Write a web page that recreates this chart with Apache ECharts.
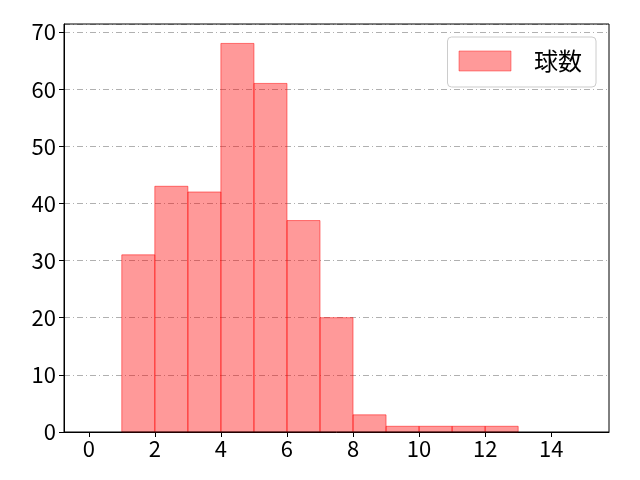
<!DOCTYPE html>
<html>
<head>
<meta charset="utf-8">
<script src="https://cdn.jsdelivr.net/npm/echarts@6/dist/echarts.min.js"></script>
<style>
  html, body { margin: 0; padding: 0; background: #fff; }
  #main { width: 640px; height: 480px; }
</style>
</head>
<body>
<div id="main"></div>
<script>
// histogram bins (left edge, right edge) and counts
var binStart = [1, 2, 3, 4, 5, 6, 7, 8, 9, 10, 11, 12];
var binEnd = [2, 3, 4, 5, 6, 7, 8, 9, 10, 11, 12, 13];
var counts = [31, 43, 42, 68, 61, 37, 20, 3, 1, 1, 1, 1];
var xTicks = [0, 2, 4, 6, 8, 10, 12, 14];
var seriesName = '球数';

var data = binStart.map(function (s, i) { return [s, binEnd[i], counts[i]]; });

var chart = echarts.init(document.getElementById('main'));
var font = 'Noto Sans CJK JP, sans-serif';

chart.setOption({
    animation: false,
    grid: { left: 64, right: 31, top: 24, bottom: 48 },
    legend: {
        right: 44, top: 37,
        padding: [12, 14, 14, 11],
        borderColor: '#cccccc', borderWidth: 1, borderRadius: 4,
        icon: 'rect', itemWidth: 52, itemHeight: 20, itemGap: 10,
        textStyle: { fontSize: 24, lineHeight: 20, fontFamily: font, color: '#000', padding: [0, 0, 0, 18] },
        data: [{ name: seriesName, itemStyle: { color: 'rgba(255,0,0,0.4)', borderColor: 'rgba(255,0,0,0.4)', borderWidth: 1 } }]
    },
    xAxis: {
        type: 'value', min: -0.75, max: 15.75,
        axisLine: { onZero: false, lineStyle: { color: '#000', width: 1 } },
        axisTick: { show: true, length: 5, lineStyle: { color: '#000' },
            customValues: xTicks },
        axisLabel: { fontSize: 22, color: '#000', fontFamily: font, margin: 6,
            customValues: xTicks },
        splitLine: { show: false }
    },
    yAxis: {
        type: 'value', min: 0, max: 71.4, interval: 10,
        axisLine: { show: true, onZero: false, lineStyle: { color: '#000', width: 1 } },
        axisTick: { show: true, length: 5, lineStyle: { color: '#000' } },
        axisLabel: { fontSize: 22, color: '#000', fontFamily: font, margin: 8,
            showMaxLabel: false },
        splitLine: { show: true, lineStyle: { color: '#b0b0b0', width: 1, type: [6, 3, 1, 3] } }
    },
    series: [{
        name: seriesName,
        type: 'custom',
        data: data,
        encode: { x: [0, 1], y: 2 },
        renderItem: function (params, api) {
            var p0 = api.coord([api.value(0), 0]);
            var p1 = api.coord([api.value(1), api.value(2)]);
            return {
                type: 'rect',
                shape: { x: p0[0], y: p1[1], width: p1[0] - p0[0], height: p0[1] - p1[1] },
                style: { fill: 'rgba(255,0,0,0.4)', stroke: 'rgba(255,0,0,0.5)', lineWidth: 1 }
            };
        }
    }],
    graphic: [{
        type: 'rect', silent: true, z: 100,
        shape: { x: 64, y: 24, width: 545, height: 408 },
        style: { fill: 'none', stroke: '#000', lineWidth: 1 }
    }]
});
</script>
</body>
</html>
